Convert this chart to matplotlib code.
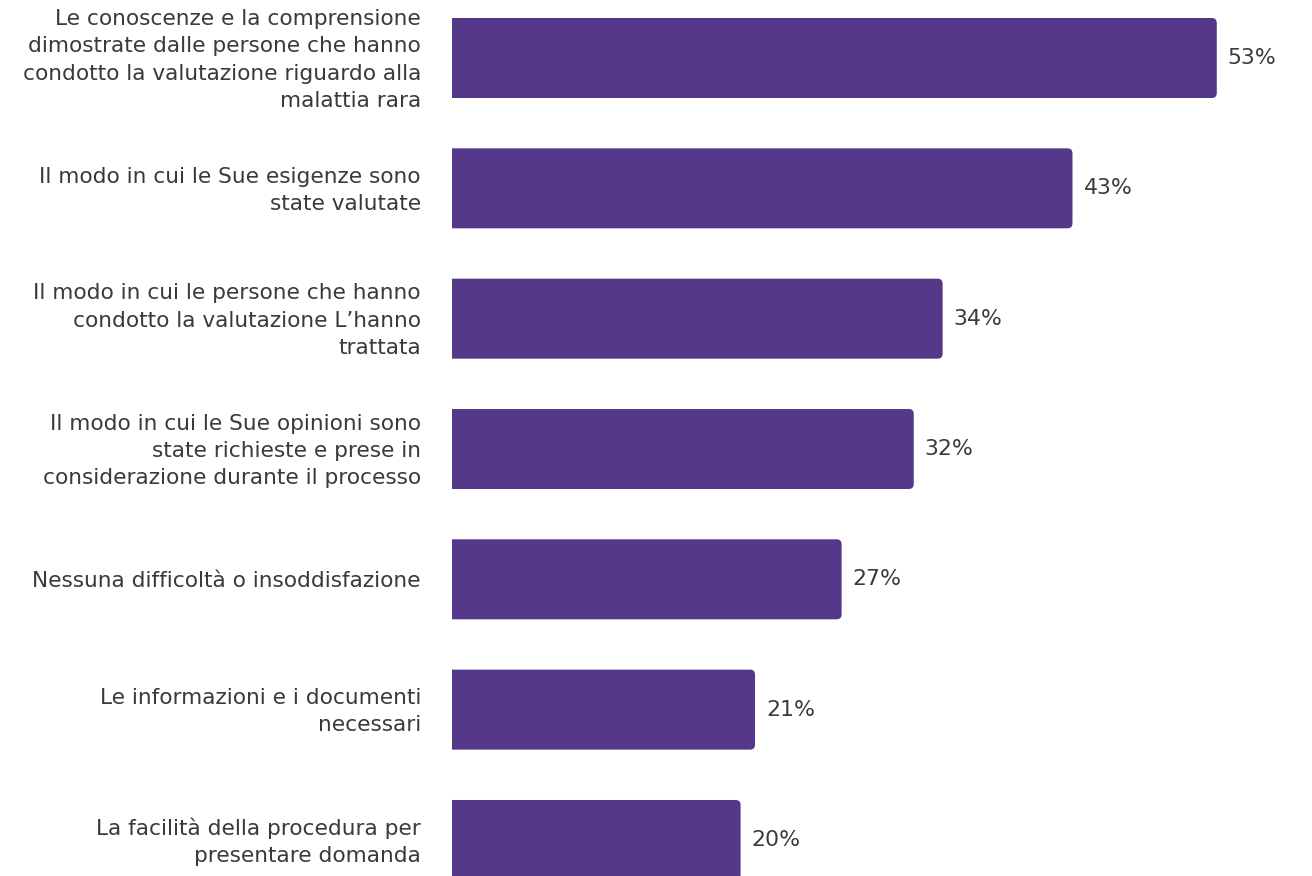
import matplotlib
matplotlib.use("Agg")
import matplotlib.pyplot as plt
from matplotlib.patches import PathPatch
from matplotlib.path import Path

categories = [
    "Le conoscenze e la comprensione\ndimostrate dalle persone che hanno\ncondotto la valutazione riguardo alla\nmalattia rara",
    "Il modo in cui le Sue esigenze sono\nstate valutate",
    "Il modo in cui le persone che hanno\ncondotto la valutazione L\u2019hanno\ntrattata",
    "Il modo in cui le Sue opinioni sono\nstate richieste e prese in\nconsiderazione durante il processo",
    "Nessuna difficolt\u00e0 o insoddisfazione",
    "Le informazioni e i documenti\nnecessari",
    "La facilit\u00e0 della procedura per\npresentare domanda",
]
values = [53, 43, 34, 32, 27, 21, 20]
value_labels = ["53%", "43%", "34%", "32%", "27%", "21%", "20%"]

W, H = 1312, 876
fig = plt.figure(figsize=(W / 100, H / 100), dpi=100)
ax = fig.add_axes([452 / W, 0, 1 - 452 / W, 1])

bar_color = "#553889"
text_color = "#3a3a3a"
px_per_unit_x = 14.43
px_per_unit_y = 130.33
xmax = (W - 452) / px_per_unit_x
ax.set_xlim(0, xmax)
ax.set_ylim((H - 58) / px_per_unit_y, -58 / px_per_unit_y)

bh = 80 / px_per_unit_y
bars = ax.barh(range(len(values)), values, height=bh, color=bar_color)
rx = 5 / px_per_unit_x
ry = 5 / px_per_unit_y
for b in bars:
    x0, y0 = b.get_x(), b.get_y()
    w, h = b.get_width(), b.get_height()
    x1, y1 = x0 + w, y0 + h
    b.set_visible(False)
    verts = [(x0, y0), (x1 - rx, y0), (x1, y0), (x1, y0 + ry),
             (x1, y1 - ry), (x1, y1), (x1 - rx, y1), (x0, y1), (x0, y0)]
    codes = [Path.MOVETO, Path.LINETO, Path.CURVE3, Path.CURVE3,
             Path.LINETO, Path.CURVE3, Path.CURVE3, Path.LINETO, Path.CLOSEPOLY]
    ax.add_patch(PathPatch(Path(verts, codes), facecolor=bar_color, edgecolor="none"))

for i, (v, lab) in enumerate(zip(values, value_labels)):
    ax.text(v + 11 / px_per_unit_x, i, lab, va="center", ha="left",
            fontsize=15.8, color=text_color)
    ax.text(-31 / px_per_unit_x, i + 2 / px_per_unit_y, categories[i], va="center", ha="right",
            fontsize=15.6, color=text_color, linespacing=1.45)

ax.axis("off")
fig.savefig("out.png", dpi=100)
